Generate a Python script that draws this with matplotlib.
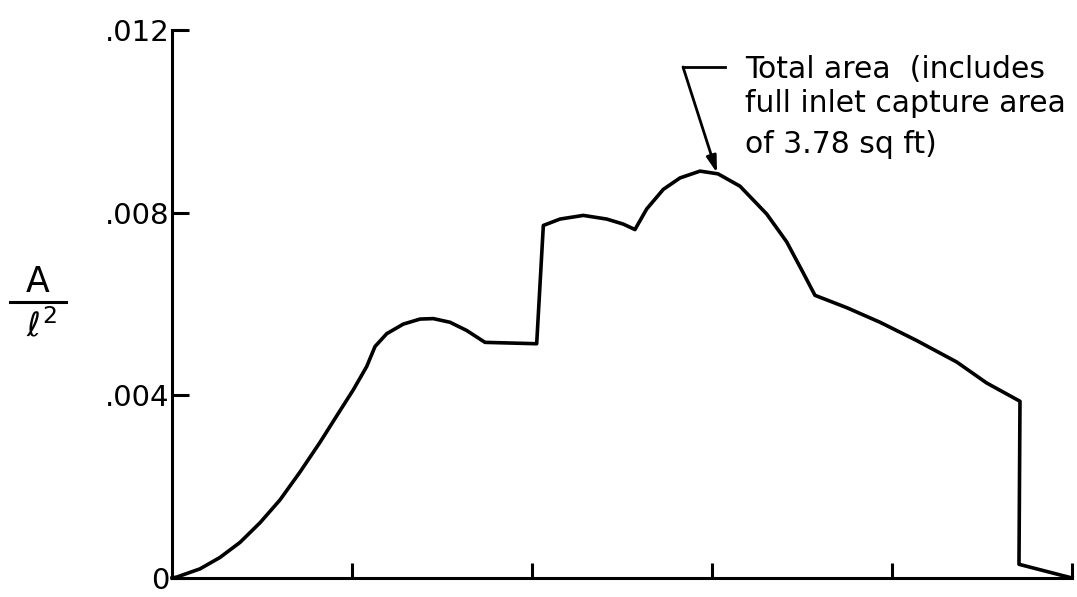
import matplotlib
matplotlib.use("Agg")
import matplotlib.pyplot as plt
from matplotlib.lines import Line2D

# Data (x as fraction of body length, y = A / l^2)
x_station = [0.0, 0.0052, 0.0311, 0.0533, 0.0756, 0.0978, 0.1200, 0.1422, 0.1644, 0.1830,
             0.2014, 0.2163, 0.2256, 0.2386, 0.2570, 0.2756, 0.2903, 0.3089, 0.3274, 0.3478,
             0.4052, 0.4126, 0.4311, 0.4570, 0.4830, 0.5014, 0.5144, 0.5274, 0.5459, 0.5644,
             0.5867, 0.6067, 0.6311, 0.6608, 0.6830, 0.7014, 0.7144, 0.7497, 0.7867, 0.8274,
             0.8719, 0.9052, 0.9422, 0.9411, 1.0]
area_ratio = [0.0, 0.00002, 0.00020, 0.00045, 0.00078, 0.00121, 0.00171, 0.00232, 0.00297, 0.00355,
              0.00412, 0.00463, 0.00507, 0.00535, 0.00556, 0.00567, 0.00568, 0.00560, 0.00542, 0.00516,
              0.00513, 0.00772, 0.00786, 0.00794, 0.00786, 0.00775, 0.00763, 0.00808, 0.00851, 0.00876,
              0.00891, 0.00885, 0.00858, 0.00797, 0.00736, 0.00668, 0.00619, 0.00592, 0.00560, 0.00520,
              0.00473, 0.00427, 0.00387, 0.00030, 0.0]

y_ticks = [0.0, 0.004, 0.008, 0.012]
y_tick_labels = ["0", ".004", ".008", ".012"]
x_ticks = [0.2, 0.4, 0.6, 0.8, 1.0]

annotation_lines = ["Total area  (includes", "full inlet capture area", "of 3.78 sq ft)"]

W, H = 1077, 597
AX_BOTTOM = 19  # px from bottom of figure to x axis
AX_TOP = 30     # px from top of figure to .012
ax_h = H - AX_BOTTOM - AX_TOP
fig = plt.figure(figsize=(W / 100, H / 100), dpi=100)
ax = fig.add_axes([172 / W, AX_BOTTOM / H, 900 / W, ax_h / H])

ax.plot(x_station, area_ratio, color="black", lw=2.6, solid_joinstyle="round",
        clip_on=False)

ax.set_xlim(0, 1)
ax.set_ylim(0, 0.012)
for side in ("top", "right"):
    ax.spines[side].set_visible(False)
for side in ("left", "bottom"):
    ax.spines[side].set_linewidth(2.2)
    ax.spines[side].set_capstyle("projecting")

ax.set_yticks(y_ticks)
ax.set_yticklabels(y_tick_labels)
ax.set_xticks(x_ticks)
ax.set_xticklabels([])
ax.tick_params(axis="y", direction="in", length=12, width=2.2, labelsize=21, pad=2)
ax.tick_params(axis="x", direction="in", length=11, width=2.2)

# y label A / l^2 drawn as a stacked fraction
fig.text(38 / W, 1 - 282 / H, "A", fontsize=25, ha="center", va="center")
fig.add_artist(Line2D([10 / W, 66 / W], [1 - 302 / H, 1 - 302 / H],
                      color="black", lw=2.2, transform=fig.transFigure))
fig.text(42 / W, 1 - 326 / H, r"$\ell^{2}$", fontsize=24, ha="center", va="center")

# annotation leader and arrow
def px2data(px, py):
    return (px - 172) / 900, ((H - AX_BOTTOM) - py) * 0.012 / ax_h

sx, sy = px2data(683, 67)
ex, ey = px2data(725, 66)
tx, ty = px2data(717, 173)
ax.plot([sx, ex], [sy, sy], color="black", lw=2.0, clip_on=False)
ax.annotate("", xy=(tx, ty), xytext=(sx, sy),
            arrowprops=dict(arrowstyle="-|>,head_length=1.0,head_width=0.3",
                            color="black", lw=2.0, shrinkA=0, shrinkB=0),
            annotation_clip=False)

baselines = [78, 112, 153]
for line, b in zip(annotation_lines, baselines):
    fig.text(745 / W, 1 - b / H, line, fontsize=21.5, ha="left", va="baseline")

fig.savefig("out.png", dpi=100)
